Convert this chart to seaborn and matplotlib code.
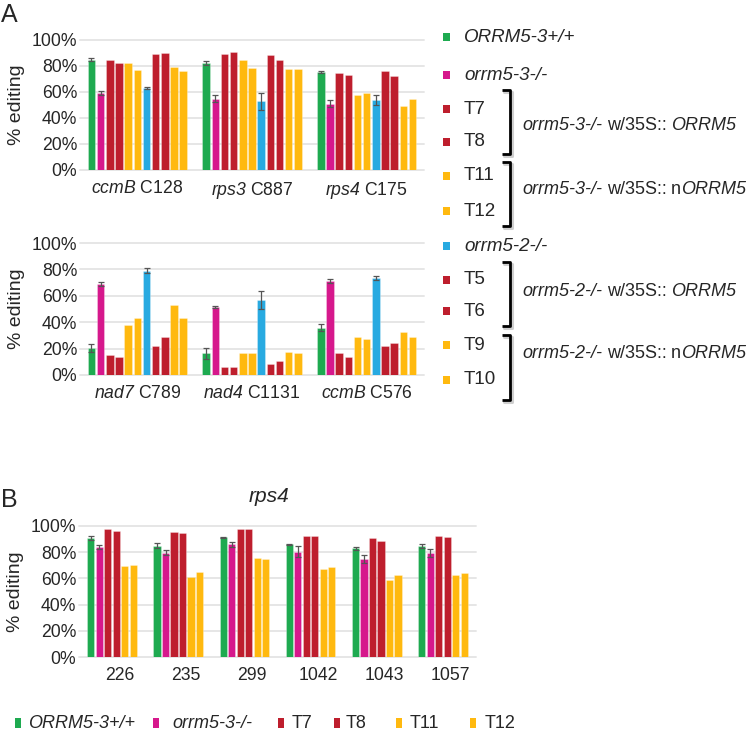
import numpy as np
import pandas as pd
import matplotlib
matplotlib.use("Agg")
import matplotlib.pyplot as plt
import seaborn as sns
from matplotlib.patches import Rectangle
from matplotlib.lines import Line2D

# ---------------- data ----------------
lines_a = ["ORRM5-3+/+", "orrm5-3-/-", "T7", "T8", "T11", "T12",
           "orrm5-2-/-", "T5", "T6", "T9", "T10"]
lines_b = ["ORRM5-3+/+", "orrm5-3-/-", "T7", "T8", "T11", "T12"]

GREEN, MAGENTA, RED, YELLOW, BLUE = "#1eaa50", "#d6188c", "#be1e2d", "#ffb90f", "#28aae1"
line_colors = {"ORRM5-3+/+": GREEN, "orrm5-3-/-": MAGENTA, "T7": RED, "T8": RED,
               "T11": YELLOW, "T12": YELLOW, "orrm5-2-/-": BLUE, "T5": RED,
               "T6": RED, "T9": YELLOW, "T10": YELLOW}

# Panel A, top
sites_a_top = ["ccmB C128", "rps3 C887", "rps4 C175"]
ccmB_C128 = [85, 59, 85, 82.5, 82.5, 77, 63, 89, 90, 79.5, 76]
rps3_C887 = [82, 55, 89, 91, 84.5, 78.5, 53, 88.5, 84.5, 77.5, 77.5]
rps4_C175 = [75.5, 51, 75, 73, 58, 59, 54, 76, 72, 49.5, 55]
err_ccmB_C128 = [1.5, 1.5, 0, 0, 0, 0, 1, 0, 0, 0, 0]
err_rps3_C887 = [1.5, 3, 0, 0, 0, 0, 6.5, 0, 0, 0, 0]
err_rps4_C175 = [1, 2.5, 0, 0, 0, 0, 4, 0, 0, 0, 0]

# Panel A, bottom
sites_a_bot = ["nad7 C789", "nad4 C1131", "ccmB C576"]
nad7_C789 = [20.6, 69, 15, 14, 38, 43, 79, 22, 29, 53, 43]
nad4_C1131 = [16.4, 51.6, 5.8, 5.8, 17, 17, 56.7, 8.3, 10.3, 17.6, 16.4]
ccmB_C576 = [35.8, 71, 17, 14, 29, 27, 73.5, 22, 24, 32.7, 29]
err_nad7_C789 = [3, 1.5, 0, 0, 0, 0, 2, 0, 0, 0, 0]
err_nad4_C1131 = [4, 1, 0, 0, 0, 0, 7, 0, 0, 0, 0]
err_ccmB_C576 = [2.5, 1.5, 0, 0, 0, 0, 1.5, 0, 0, 0, 0]

# Panel B (rps4)
sites_b = ["226", "235", "299", "1042", "1043", "1057"]
site_226 = [90.5, 84, 97.4, 96, 69.4, 70]
site_235 = [85, 79.6, 95.4, 94.4, 61, 65]
site_299 = [91.3, 86, 97.7, 97.4, 75.8, 74.7]
site_1042 = [86, 80.4, 92.6, 92.3, 67, 69]
site_1043 = [83, 74.7, 90.6, 88.5, 58.7, 62.5]
site_1057 = [85, 79.6, 92.6, 91.3, 62.5, 64.5]
err_226 = [1.5, 1.5, 0, 0, 0, 0]
err_235 = [2, 2, 0, 0, 0, 0]
err_299 = [0.5, 2, 0, 0, 0, 0]
err_1042 = [0.5, 4, 0, 0, 0, 0]
err_1043 = [1, 3, 0, 0, 0, 0]
err_1057 = [1.5, 3, 0, 0, 0, 0]

# ---------------- style ----------------
sns.set_theme(style="white")
plt.rcParams["font.family"] = ["Liberation Sans", "DejaVu Sans"]
plt.rcParams["mathtext.fontset"] = "custom"
plt.rcParams["mathtext.rm"] = "Liberation Sans:italic"
plt.rcParams["mathtext.it"] = "Liberation Sans:italic"

W, H = 749, 732
fig = plt.figure(figsize=(W / 100, H / 100), dpi=100)


def fx(x):
    return x / W


def fy(y):
    return 1 - y / H


def make_df(sites, values, errs, lines):
    rows = []
    for s, vals, es in zip(sites, values, errs):
        for ln, v, e in zip(lines, vals, es):
            rows.append({"site": s, "line": ln, "value": v, "err": e})
    return pd.DataFrame(rows)


def draw_panel(rect, sites, values, errs, lines, width, gap, ticklabels, tick_shift=0.0):
    ax = fig.add_axes(rect)
    df = make_df(sites, values, errs, lines)
    sns.barplot(data=df, x="site", y="value", hue="line", hue_order=lines,
                order=sites, palette=[line_colors[l] for l in lines],
                width=width, gap=gap, errorbar=None, legend=False,
                saturation=1, linewidth=0.6, edgecolor="#ffffff55", ax=ax)
    # error bars placed on the library-drawn bars
    groups = {}
    for p in ax.patches:
        cx = p.get_x() + p.get_width() / 2
        groups.setdefault(int(round(cx)), []).append((cx, p.get_height()))
    for ci, items in groups.items():
        items.sort()
        for hi, (cx, h) in enumerate(items):
            e = errs[ci][hi]
            if e > 0:
                ax.errorbar(cx, h, yerr=e, fmt="none", ecolor="#555555",
                            elinewidth=0.9, capsize=2.5, capthick=0.9, zorder=5)
    ax.set_xlim(-0.5, len(sites) - 0.5)
    ax.set_ylim(0, 100)
    ax.set_yticks(range(0, 101, 20))
    ax.set_yticklabels([f"{v}%" for v in range(0, 101, 20)])
    ax.set_xticks([i + tick_shift for i in range(len(sites))])
    ax.set_xticklabels(ticklabels)
    ax.yaxis.grid(True, color="#e6e6e6", lw=1.4)
    for gl in ax.get_ygridlines():
        gl.set_clip_on(False)
    ax.set_axisbelow(True)
    for s in ax.spines.values():
        s.set_visible(False)
    ax.tick_params(axis="y", length=0, labelsize=12.7, pad=2)
    ax.tick_params(axis="x", length=0, labelsize=12.7, pad=7)
    ax.set_xlabel("")
    ax.set_ylabel("% editing", fontsize=14, labelpad=5)
    return ax


ax1 = draw_panel([fx(80), fy(170), 344 / W, 130 / H], sites_a_top,
                 [ccmB_C128, rps3_C887, rps4_C175],
                 [err_ccmB_C128, err_rps3_C887, err_rps4_C175],
                 lines_a, 0.88, 0.18,
                 ["$ccmB$ C128", "$rps3$ C887", "$rps4$ C175"])
ax2 = draw_panel([fx(80), fy(375), 344 / W, 132 / H], sites_a_bot,
                 [nad7_C789, nad4_C1131, ccmB_C576],
                 [err_nad7_C789, err_nad4_C1131, err_ccmB_C576],
                 lines_a, 0.88, 0.18,
                 ["$nad7$ C789", "$nad4$ C1131", "$ccmB$ C576"])
ax3 = draw_panel([fx(79), fy(657), 397 / W, 131 / H], sites_b,
                 [site_226, site_235, site_299, site_1042, site_1043, site_1057],
                 [err_226, err_235, err_299, err_1042, err_1043, err_1057],
                 lines_b, 0.77, 0.15, sites_b, tick_shift=0.12)
ax3.set_title("rps4", style="italic", fontsize=15, pad=17, x=(269 - 79) / 397)

# panel letters
fig.text(fx(1), fy(15), "A", fontsize=18, va="center", ha="left")
fig.text(fx(1), fy(500), "B", fontsize=18, va="center", ha="left")

renderer = fig.canvas.get_renderer()


def rich(x, y, parts, size):
    """parts: list of (text, style, gap_px_before)"""
    cur = x
    for txt, style, gap in parts:
        cur += gap
        t = fig.text(fx(cur), fy(y), txt, fontsize=size, style=style,
                     va="center", ha="left")
        bb = t.get_window_extent(renderer=renderer)
        cur = bb.x1


def square(x, y, w, h, color):
    fig.patches.append(Rectangle((fx(x - w / 2), fy(y + h / 2)), w / W, h / H,
                                 transform=fig.transFigure, facecolor=color,
                                 edgecolor="none"))


# right-hand legend for panel A
legend_a = [("ORRM5-3+/+", 37), ("orrm5-3-/-", 75), ("T7", 109), ("T8", 142),
            ("T11", 176), ("T12", 211), ("orrm5-2-/-", 246), ("T5", 280),
            ("T6", 311), ("T9", 345), ("T10", 380)]
for lab, yy in legend_a:
    square(446.5, yy, 7, 8, line_colors[lab])
    st = "normal" if lab.startswith("T") else "italic"
    fig.text(fx(464), fy(yy), lab, fontsize=13.5, style=st, va="center", ha="left")


def bracket(x, y0, y1):
    xs = [fx(x - 8), fx(x), fx(x), fx(x - 8)]
    ys = [fy(y0), fy(y0), fy(y1), fy(y1)]
    sh = Line2D([v + 1.8 / W for v in xs], [v - 1.8 / H for v in ys],
                transform=fig.transFigure, color="#cfcfcf", lw=2.2,
                solid_joinstyle="round", solid_capstyle="round")
    ln = Line2D(xs, ys, transform=fig.transFigure, color="black", lw=2.0,
                solid_joinstyle="round", solid_capstyle="butt")
    fig.lines.extend([sh, ln])


bracket(510, 90, 154)
bracket(510, 162, 226)
bracket(510, 262, 326)
bracket(510, 335, 400)

sp = 4.6
rich(522, 125, [("orrm5-3-/-", "italic", 0), ("w/35S::", "normal", sp),
                ("ORRM5", "italic", sp)], 13)
rich(522, 189, [("orrm5-3-/-", "italic", 0), ("w/35S::", "normal", sp),
                ("n", "normal", sp), ("ORRM5", "italic", 0)], 13)
rich(522, 292, [("orrm5-2-/-", "italic", 0), ("w/35S::", "normal", sp),
                ("ORRM5", "italic", sp)], 13)
rich(522, 354, [("orrm5-2-/-", "italic", 0), ("w/35S::", "normal", sp),
                ("n", "normal", sp), ("ORRM5", "italic", 0)], 13)

# bottom legend for panel B
legend_b = [("ORRM5-3+/+", 18.5, 28), ("orrm5-3-/-", 155.5, 172),
            ("T7", 280.5, 292), ("T8", 336.5, 346), ("T11", 398.5, 410),
            ("T12", 472.5, 485)]
for lab, sx, tx in legend_b:
    square(sx, 723, 6, 10, line_colors[lab])
    st = "normal" if lab.startswith("T") else "italic"
    fig.text(fx(tx), fy(723), lab, fontsize=13, style=st, va="center", ha="left")

fig.savefig("out.png", dpi=100)
